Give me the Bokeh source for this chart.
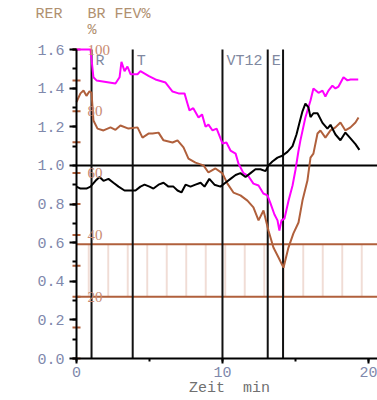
from bokeh.plotting import figure
from bokeh.models import (Range1d, ColumnDataSource, SingleIntervalTicker, PrintfTickFormatter,
                          Label, LabelSet)
from bokeh.core.properties import value
from bokeh.embed import file_html
from bokeh.resources import INLINE

# ---- data ----
# RER (black, left axis)
rer_t = [0, 0.27, 0.68, 0.96, 1.3, 1.58, 1.85, 2.19, 2.53, 2.88, 3.29, 3.7, 4.04, 4.38, 4.66,
         5.0, 5.27, 5.62, 5.96, 6.3, 6.64, 6.92, 7.19, 7.47, 7.81, 8.15, 8.5, 8.77, 9.1, 9.45,
         9.86, 10.2, 10.55, 10.9, 11.23, 11.58, 11.92, 12.26, 12.6, 12.95, 13.15, 13.42, 13.77,
         14.1, 14.45, 14.8, 15.07, 15.27, 15.48, 15.68, 15.89, 16.03, 16.23, 16.51, 16.85,
         17.19, 17.4, 17.74, 18.08, 18.42, 18.77, 19.11, 19.38]
rer_v = [0.89, 0.88, 0.88, 0.89, 0.92, 0.94, 0.92, 0.93, 0.91, 0.89, 0.87, 0.87, 0.87, 0.89, 0.90,
         0.89, 0.88, 0.90, 0.91, 0.89, 0.89, 0.87, 0.86, 0.90, 0.89, 0.90, 0.91, 0.89, 0.93, 0.90,
         0.89, 0.91, 0.93, 0.95, 0.96, 0.94, 0.96, 0.98, 0.98, 0.97, 1.00, 1.02, 1.04,
         1.05, 1.07, 1.10, 1.16, 1.22, 1.28, 1.32, 1.30, 1.25, 1.27, 1.27, 1.22,
         1.19, 1.21, 1.16, 1.13, 1.17, 1.14, 1.11, 1.08]

# FEV% (magenta, right scale 0-100)
fev_t = [0, 0.96, 1.16, 1.37, 2.67, 2.95, 3.08, 3.29, 3.49, 3.70, 4.18, 4.38, 4.93, 5.41, 6.10,
         6.58, 6.99, 7.40, 7.60, 7.74, 8.0, 8.36, 8.6, 8.84, 9.04, 9.32, 9.6, 10.0, 10.27, 10.55,
         10.9, 11.1, 11.44, 11.78, 12.12, 12.47, 12.8, 13.08, 13.29, 13.56, 13.77, 13.9, 14.04,
         14.25, 14.52, 14.8, 15.0, 15.2, 15.34, 15.68, 16.03, 16.23, 16.58, 16.85, 17.05, 17.26,
         17.53, 17.74, 17.95, 18.29, 18.56, 18.77, 19.3]
fev_v = [100, 100, 91, 90, 89, 91, 96, 93, 94.5, 92, 92, 93, 91.5, 90.3, 89.3,
         86.4, 85.8, 85.8, 82.5, 80.3, 81, 78, 79, 75, 75.7, 73.8, 74.4, 69.6, 69.9, 67.3,
         66.3, 63, 60, 59, 56.6, 56, 53.4, 52.8, 50.2, 46.6, 44.7, 41.4, 44.7,
         45.3, 51, 56, 61, 67, 70.6, 78, 83.5, 87.4, 86, 86.7, 84.8, 86.7,
         88.3, 87.4, 88, 91, 90, 90.3, 90.3]

# BR % (brown, right scale 0-100)
br_t = [0, 0.27, 0.48, 0.68, 0.89, 1.03, 1.16, 1.44, 1.85, 2.33, 2.67, 3.01, 3.56, 4.18, 4.52,
        4.93, 5.21, 5.62, 5.96, 6.58, 6.92, 7.33, 7.67, 8.15, 8.7, 9.04, 9.52, 10.0, 10.34,
        10.75, 11.23, 11.71, 12.12, 12.47, 12.81, 13.15, 13.49, 13.84, 14.18, 14.52, 14.86,
        15.21, 15.48, 15.82, 16.03, 16.23, 16.51, 16.71, 17.05, 17.4, 17.74, 18.08, 18.42,
        18.77, 19.11, 19.32]
br_v = [83, 85.8, 86.7, 85, 86.5, 86, 77, 74.4, 73.8, 74.8, 74, 75.4, 74.4, 74.8, 71.5,
        72.8, 72.8, 73.1, 70.6, 69.9, 70.6, 68.3, 64.7, 63.4, 62.5, 60.2, 61.5, 59.9, 56.6,
        53.7, 52.8, 51.1, 48.9, 44.7, 47.9, 41.4, 35.9, 32.7, 29.4, 35.9, 40.5,
        44, 51.1, 57.6, 65, 66.3, 72.8, 73.8, 71.5, 73.8, 74.8, 76.4, 73.8,
        74.8, 76.4, 78]

# reference band on the BR scale
band_low = [20]
band_high = [37]

# phase markers
event_t = [1.03, 3.85, 10.0, 13.1, 14.15]
event_lbl = ["R", "T", "VT12", "E", ""]

# secondary-scale ticks/labels
br_ticks = [0, 10, 20, 30, 40, 50, 60, 70, 80, 90, 100]
br_lbl_pos = [20, 40, 60, 80, 100]
br_lbl_txt = ["20", "40", "60", "80", "100"]

# ---- styling ----
FONT = "Liberation Mono"
BROWN = "#b0603c"
MAG = "#ff00ff"
TICKCOL = "#8088ac"
XMAX = 20.62
RER_MAX = 1.6
BR_MAX = 100
PX_PER_RER = 309.0 / RER_MAX
# frame covers the whole canvas; both axes are pinned at the data origin
XMIN = -XMAX * 76.0 / (377.0 - 76.0)
YTOP = RER_MAX + 49.0 / PX_PER_RER
YBOT = -42.0 / PX_PER_RER

p = figure(width=377, height=400, x_range=Range1d(XMIN, XMAX), y_range=Range1d(YBOT, YTOP),
           output_backend="svg", toolbar_location=None,
           min_border_left=0, min_border_right=0, min_border_top=0, min_border_bottom=0)
p.extra_y_ranges = {"br": Range1d(YBOT / RER_MAX * BR_MAX, YTOP / RER_MAX * BR_MAX)}
p.outline_line_color = None
p.grid.visible = False
p.background_fill_color = "white"
p.border_fill_color = "white"

# y axis
ya = p.yaxis[0]
ya.fixed_location = 0
ya.bounds = (0, RER_MAX)
ya.ticker = SingleIntervalTicker(interval=0.2, num_minor_ticks=2)
ya.formatter = PrintfTickFormatter(format="%.1f")
ya.axis_line_width = 2
ya.major_tick_out = 7
ya.major_tick_in = 0
ya.minor_tick_out = 4
ya.minor_tick_in = 0
ya.major_tick_line_width = 2
ya.minor_tick_line_width = 2
ya.major_label_text_font = FONT
ya.major_label_text_font_size = "15px"
ya.major_label_text_color = TICKCOL
ya.major_label_standoff = 5

# x axis
xa = p.xaxis[0]
xa.fixed_location = 0
xa.bounds = (0, XMAX)
xa.ticker = SingleIntervalTicker(interval=10, num_minor_ticks=2)
xa.axis_line_width = 2
xa.major_tick_out = 5
xa.major_tick_in = 0
xa.minor_tick_out = 3
xa.minor_tick_in = 0
xa.major_tick_line_width = 2
xa.minor_tick_line_width = 2
xa.major_label_text_font = FONT
xa.major_label_text_font_size = "15px"
xa.major_label_text_color = TICKCOL
xa.major_label_standoff = 3

# band
p.quad(left=[0], right=[XMAX], bottom=band_low, top=band_high, y_range_name="br",
       fill_color=None, line_color=None,
       hatch_pattern="vertical_line", hatch_color="#e2bcae", hatch_scale=19.5, hatch_weight=1)
p.segment(x0=[0, 0], y0=band_low + band_high, x1=[XMAX, XMAX], y1=band_low + band_high,
          y_range_name="br", line_color=BROWN, line_width=2)

# reference line at RER 1.0 and phase markers
p.segment(x0=[0], y0=[1.0], x1=[XMAX], y1=[1.0], line_color="black", line_width=2)
p.segment(x0=event_t, y0=[0] * len(event_t), x1=event_t, y1=[RER_MAX] * len(event_t),
          line_color="#111111", line_width=2)

# secondary scale ticks and labels
p.scatter(x=[0] * len(br_ticks), y=br_ticks, y_range_name="br", marker="dash",
          size=8, line_color=BROWN, line_width=2)
br_src = ColumnDataSource(dict(x=[0] * len(br_lbl_pos), y=br_lbl_pos, t=br_lbl_txt))
p.add_layout(LabelSet(x="x", y="y", text="t", source=br_src, y_range_name="br",
                      x_offset=11, text_font=FONT, text_font_size="15px",
                      text_color="#c88a70", text_baseline="middle", text_align="left"))

# series
p.line(br_t, br_v, y_range_name="br", line_color=BROWN, line_width=2)
p.line(fev_t, fev_v, y_range_name="br", line_color=MAG, line_width=2)
p.line(rer_t, rer_v, line_color="black", line_width=2)

# phase labels
p.text(x=event_t, y=[RER_MAX] * len(event_t), text=event_lbl, x_offset=4, y_offset=3,
       text_font=value(FONT), text_font_size="15px", text_color="#8088a0",
       text_baseline="top", text_align="left")

# header labels
for txt, xx, yy in [("RER", -2.81, 1.781), ("BR FEV%", 0.75, 1.781), ("%", 0.75, 1.70)]:
    p.add_layout(Label(x=xx, y=yy, text=txt, text_font=FONT, text_font_size="15px",
                       text_color="#b09070", text_baseline="middle", text_align="left"))

# x axis title
p.add_layout(Label(x=10.48, y=-0.155, text="Zeit\u00a0\u00a0min", text_font=FONT,
                   text_font_size="15px", text_color="#707070",
                   text_baseline="middle", text_align="center"))

open("out.html", "w").write(file_html(p, INLINE))
